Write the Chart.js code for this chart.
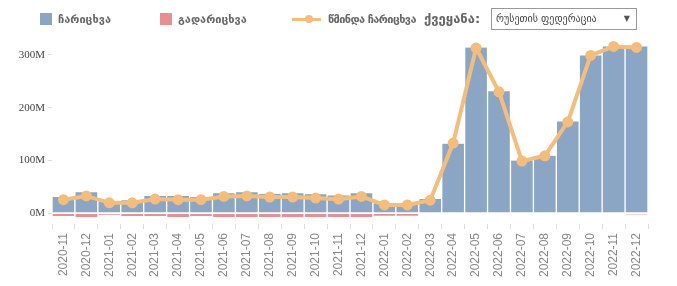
<!DOCTYPE html>
<html>
<head>
<meta charset="utf-8">
<script src="https://cdn.jsdelivr.net/npm/chart.js@4"></script>
<style>
  body { margin: 0; background: #fff; }
  #wrap { position: relative; width: 677px; height: 286px; }
  #legend { position: absolute; left: 0; top: 0; width: 677px; height: 36px; font-family: "DejaVu Sans", sans-serif; font-size: 11px; font-weight: bold; color: #666; }
  .item { position: absolute; top: 13px; line-height: 13px; white-space: nowrap; }
  .box { display: inline-block; width: 12px; height: 12px; vertical-align: top; margin-right: 6px; }
  .lineKey { display: inline-block; position: relative; width: 29px; height: 12px; vertical-align: top; margin-right: 7px; }
  .lineKey i { position: absolute; left: 0; top: 5px; width: 29px; height: 3px; background: #f5bd7a; }
  .lineKey b { position: absolute; left: 13px; top: 2px; width: 8px; height: 8px; border-radius: 50%; background: #f5bd7a; }
  #pick { position: absolute; left: 491px; top: 8px; width: 140px; height: 20px; border: 1px solid #999; background: #fff; font-family: "DejaVu Sans", sans-serif; font-size: 10px; font-weight: normal; color: #444; line-height: 20px; padding-left: 4px; box-sizing: content-box; }
  #pick span.arr { position: absolute; right: 6px; top: 0; font-size: 8px; color: #555; }
  canvas { position: absolute; left: 0; top: 0; }
</style>
</head>
<body>
<div id="wrap">
  <canvas id="grafico" width="677" height="286"></canvas>
  <div id="legend"></div>
</div>
<script>
// meses (categorias)
const meses = ['2020-11','2020-12','2021-01','2021-02','2021-03','2021-04','2021-05','2021-06','2021-07','2021-08','2021-09','2021-10','2021-11','2021-12','2022-01','2022-02','2022-03','2022-04','2022-05','2022-06','2022-07','2022-08','2022-09','2022-10','2022-11','2022-12'];
// valores en millones
const ingresos = [31,40,23,25,33,33,31,38,40,37,38,36,34,38,19,19,27,132,314,231,100,109,174,299,316,316];
const egresos = [-5,-7,-2.5,-5,-5,-7,-5,-7,-7,-7,-7,-7,-7,-7,-4.5,-4.5,0,0,0,0,0,0,0,0,0,-2];
const neto = [26,33,20,20,27,26,26,32,33,31,31,29,27,32,16,16,25,133,313,230,99,109,173,299,316,314];
const ticksY = [0,100,200,300];
const etiquetas = ['ჩარიცხვა','გადარიცხვა','წმინდა ჩარიცხვა'];
const etiquetaPais = 'ქვეყანა:';
const pais = 'რუსეთის ფედერაცია';

const azul = '#8aa6c4';
const rojo = '#ea8f8f';
const naranja = '#f5bd7a';

// leyenda en HTML
const leyenda = document.querySelector('#legend');
leyenda.innerHTML = `
  <div class="item" style="left:40px"><span class="box" style="background:${azul}"></span>${etiquetas[0]}</div>
  <div class="item" style="left:160px"><span class="box" style="background:${rojo}"></span>${etiquetas[1]}</div>
  <div class="item" style="left:292px;letter-spacing:-0.6px"><span class="lineKey"><i></i><b></b></span>${etiquetas[2]}</div>
  <div class="item" style="left:424px;font-size:13px;top:12px">${etiquetaPais}</div>
  <div id="pick">${pais}<span class="arr">▼</span></div>`;

const ctx = document.querySelector('#grafico');
new Chart(ctx, {
  type: 'bar',
  data: {
    labels: meses,
    datasets: [
      {
        type: 'line',
        label: etiquetas[2],
        data: neto,
        stack: 'neto',
        borderColor: naranja,
        backgroundColor: naranja,
        borderWidth: 4,
        pointRadius: 3.5,
        pointBackgroundColor: naranja,
        pointBorderColor: naranja,
        tension: 0,
        order: 0
      },
      {
        label: etiquetas[0],
        data: ingresos,
        stack: 'flujo',
        backgroundColor: azul,
        borderColor: '#fff',
        borderWidth: { left: 1, right: 1, top: 0, bottom: 1 },
        borderSkipped: false,
        order: 1
      },
      {
        label: etiquetas[1],
        data: egresos,
        stack: 'flujo',
        backgroundColor: rojo,
        borderColor: '#fff',
        borderWidth: { left: 1, right: 1, top: 0, bottom: 0 },
        borderSkipped: false,
        order: 1
      }
    ]
  },
  options: {
    responsive: false,
    animation: false,
    layout: { padding: { top: 39, right: 29, bottom: 5, left: 0 } },
    plugins: { legend: { display: false }, tooltip: { enabled: false } },
    datasets: { bar: { barPercentage: 1, categoryPercentage: 1 } },
    scales: {
      x: {
        stacked: true,
        grid: { display: true, drawOnChartArea: false, offset: true, color: '#ddd', tickLength: 5 },
        border: { display: false },
        ticks: { color: '#888', font: { family: 'Liberation Sans', size: 12 }, minRotation: 90, maxRotation: 90, autoSkip: false, padding: 4 }
      },
      y: {
        stacked: true,
        min: -20,
        max: 330,
        afterFit: (s) => { s.width = 52; },
        afterBuildTicks: (s) => { s.ticks = ticksY.map(v => ({ value: v })); },
        grid: { display: true, drawOnChartArea: false, color: '#ddd', tickLength: 4 },
        border: { display: false },
        ticks: { color: '#444', font: { family: 'Liberation Serif', size: 11 }, padding: 3, callback: (v) => v + 'M' }
      }
    }
  }
});
</script>
</body>
</html>
